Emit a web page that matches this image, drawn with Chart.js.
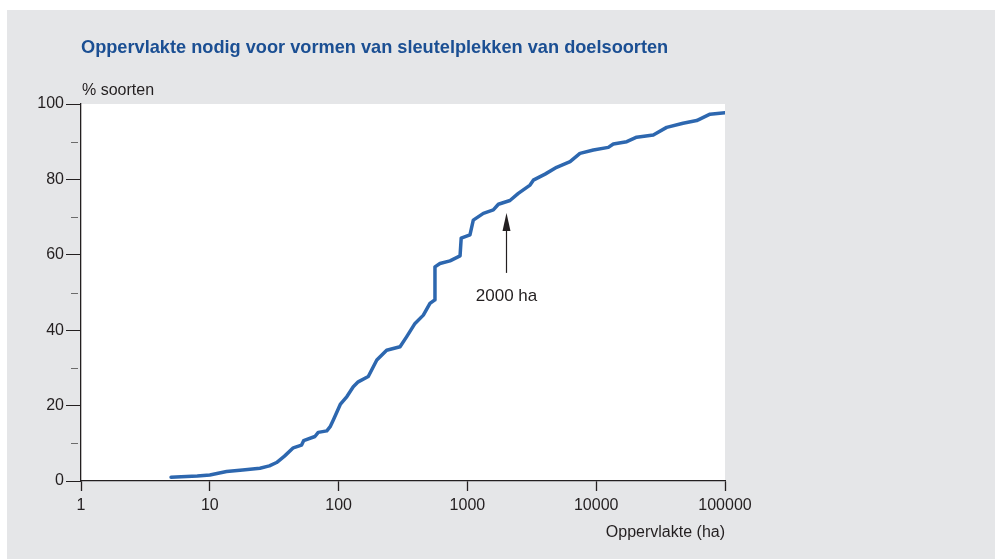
<!DOCTYPE html>
<html>
<head>
<meta charset="utf-8">
<script src="https://cdn.jsdelivr.net/npm/chart.js@4.4.0/dist/chart.umd.min.js"></script>
<style>
  html, body { margin: 0; padding: 0; background: #fff; }
  #wrap { width: 995px; height: 559px; position: relative; }
</style>
</head>
<body>
<div id="wrap"><canvas id="grafiek"></canvas></div>
<script>
// oppervlakte (ha) en cumulatief % soorten
const oppervlakte = [5, 6, 8, 10, 13.5, 18, 24.5, 29, 33, 38, 44.5, 51.5, 53.5, 65.5, 69.5, 81, 86, 91,
  103, 116, 130, 142, 170, 198, 236, 300, 338, 392, 455, 512, 555, 560, 612, 733, 877, 895,
  1047, 1111, 1330, 1590, 1740, 2140, 2485, 3064, 3250, 4010, 4930, 6270, 7480, 9510,
  12420, 13580, 17260, 20620, 27750, 35250, 47200, 60300, 76500, 100000];
const procentSoorten = [1.0, 1.1, 1.3, 1.6, 2.5, 2.9, 3.4, 4.0, 4.9, 6.6, 8.8, 9.5, 10.7, 11.8, 12.9, 13.3, 14.4, 16.2,
  20.3, 22.4, 25.0, 26.3, 27.7, 32.1, 34.7, 35.6, 38.3, 41.8, 44.0, 47.1, 48.0, 56.8, 57.7, 58.4, 59.7, 64.4,
  65.3, 69.2, 71.0, 71.9, 73.4, 74.4, 76.3, 78.5, 79.8, 81.4, 83.2, 84.7, 86.9, 87.8,
  88.5, 89.4, 90.0, 91.2, 91.8, 93.8, 94.9, 95.6, 97.3, 97.7];

const xTicks = [1, 10, 100, 1000, 10000, 100000];
const yTicks = [0, 20, 40, 60, 80, 100];
const yTussenTicks = [10, 30, 50, 70, 90];

const titel = "Oppervlakte nodig voor vormen van sleutelplekken van doelsoorten";
const yTitel = "% soorten";
const xTitel = "Oppervlakte (ha)";
const pijl = { x: 2000, van: 55.2, tot: 71.1, tekstY: 49.1, tekst: "2000 ha" };

const punten = oppervlakte.map((x, i) => ({ x: x, y: procentSoorten[i] }));
const tekstKleur = "#231f20";

const extra = {
  id: "extra",
  beforeDraw(chart) {
    const { ctx, chartArea: a } = chart;
    ctx.save();
    ctx.fillStyle = "#ffffff";
    ctx.fillRect(0, 0, chart.width, chart.height);
    ctx.fillStyle = "#e5e6e8";
    ctx.fillRect(7, 10, chart.width - 7, chart.height - 10);
    ctx.fillStyle = "#ffffff";
    ctx.fillRect(a.left, a.top, a.width, a.height);
    ctx.restore();
  },
  afterDraw(chart) {
    const { ctx, chartArea: a } = chart;
    const xs = chart.scales.x, ys = chart.scales.y;
    ctx.save();
    // titel
    ctx.fillStyle = "#1b4f93";
    ctx.font = "bold 18.2px 'Liberation Sans', Arial, sans-serif";
    ctx.textBaseline = "middle";
    ctx.textAlign = "left";
    ctx.fillText(titel, a.left, 48);
    // as-titels
    ctx.fillStyle = tekstKleur;
    ctx.font = "16px 'Liberation Sans', Arial, sans-serif";
    ctx.fillText(yTitel, a.left + 1, 91);
    ctx.textAlign = "right";
    ctx.fillText(xTitel, a.right, 533);
    // tussenticks y-as
    ctx.strokeStyle = "#6b6b6b";
    ctx.lineWidth = 1;
    yTussenTicks.forEach(v => {
      const y = Math.round(ys.getPixelForValue(v)) + 0.5;
      ctx.beginPath();
      ctx.moveTo(a.left - 10, y);
      ctx.lineTo(a.left - 3, y);
      ctx.stroke();
    });
    // pijl bij 2000 ha
    const px = Math.round(xs.getPixelForValue(pijl.x)) + 0.5;
    const yVan = ys.getPixelForValue(pijl.van);
    const yTot = ys.getPixelForValue(pijl.tot);
    ctx.strokeStyle = tekstKleur;
    ctx.fillStyle = tekstKleur;
    ctx.lineWidth = 1.2;
    ctx.beginPath();
    ctx.moveTo(px, yVan);
    ctx.lineTo(px, yTot + 10);
    ctx.stroke();
    ctx.beginPath();
    ctx.moveTo(px, yTot);
    ctx.lineTo(px - 4, yTot + 18);
    ctx.lineTo(px + 4, yTot + 18);
    ctx.closePath();
    ctx.fill();
    ctx.font = "17px 'Liberation Sans', Arial, sans-serif";
    ctx.textAlign = "center";
    ctx.fillText(pijl.tekst, px, ys.getPixelForValue(pijl.tekstY));
    ctx.restore();
  }
};

new Chart(document.getElementById("grafiek"), {
  type: "line",
  data: {
    datasets: [{
      label: "% soorten",
      data: punten,
      borderColor: "#2d67af",
      borderWidth: 3.5,
      borderJoinStyle: "round",
      borderCapStyle: "round",
      pointRadius: 0,
      tension: 0,
      fill: false,
    }],
  },
  options: {
    responsive: true,
    maintainAspectRatio: false,
    animation: false,
    events: [],
    layout: { padding: { top: 104, right: 270, left: 7, bottom: 0 } },
    plugins: { legend: { display: false }, tooltip: { enabled: false }, title: { display: false } },
    scales: {
      x: {
        type: "logarithmic",
        min: 1,
        max: 100000,
        afterBuildTicks: s => { s.ticks = xTicks.map(v => ({ value: v })); },
        afterFit: s => { s.height = 559 - 481; },
        border: { color: "#231f20", width: 1.3 },
        grid: { display: true, drawOnChartArea: false, drawTicks: true, tickLength: 10, color: "#231f20", tickWidth: 1.3 },
        ticks: {
          color: tekstKleur,
          font: { family: "'Liberation Sans', Arial, sans-serif", size: 16 },
          padding: 5,
          maxRotation: 0,
          autoSkip: false,
          callback: v => String(v),
        },
      },
      y: {
        min: 0,
        max: 100,
        afterBuildTicks: s => { s.ticks = yTicks.map(v => ({ value: v })); },
        afterFit: s => { s.width = 81 - 7; },
        border: { color: "#231f20", width: 1.3 },
        grid: { display: true, drawOnChartArea: false, drawTicks: true, tickLength: 15, color: "#231f20", tickWidth: 1 },
        ticks: {
          color: tekstKleur,
          font: { family: "'Liberation Sans', Arial, sans-serif", size: 16 },
          padding: 2,
        },
      },
    },
  },
  plugins: [extra],
});
</script>
</body>
</html>
